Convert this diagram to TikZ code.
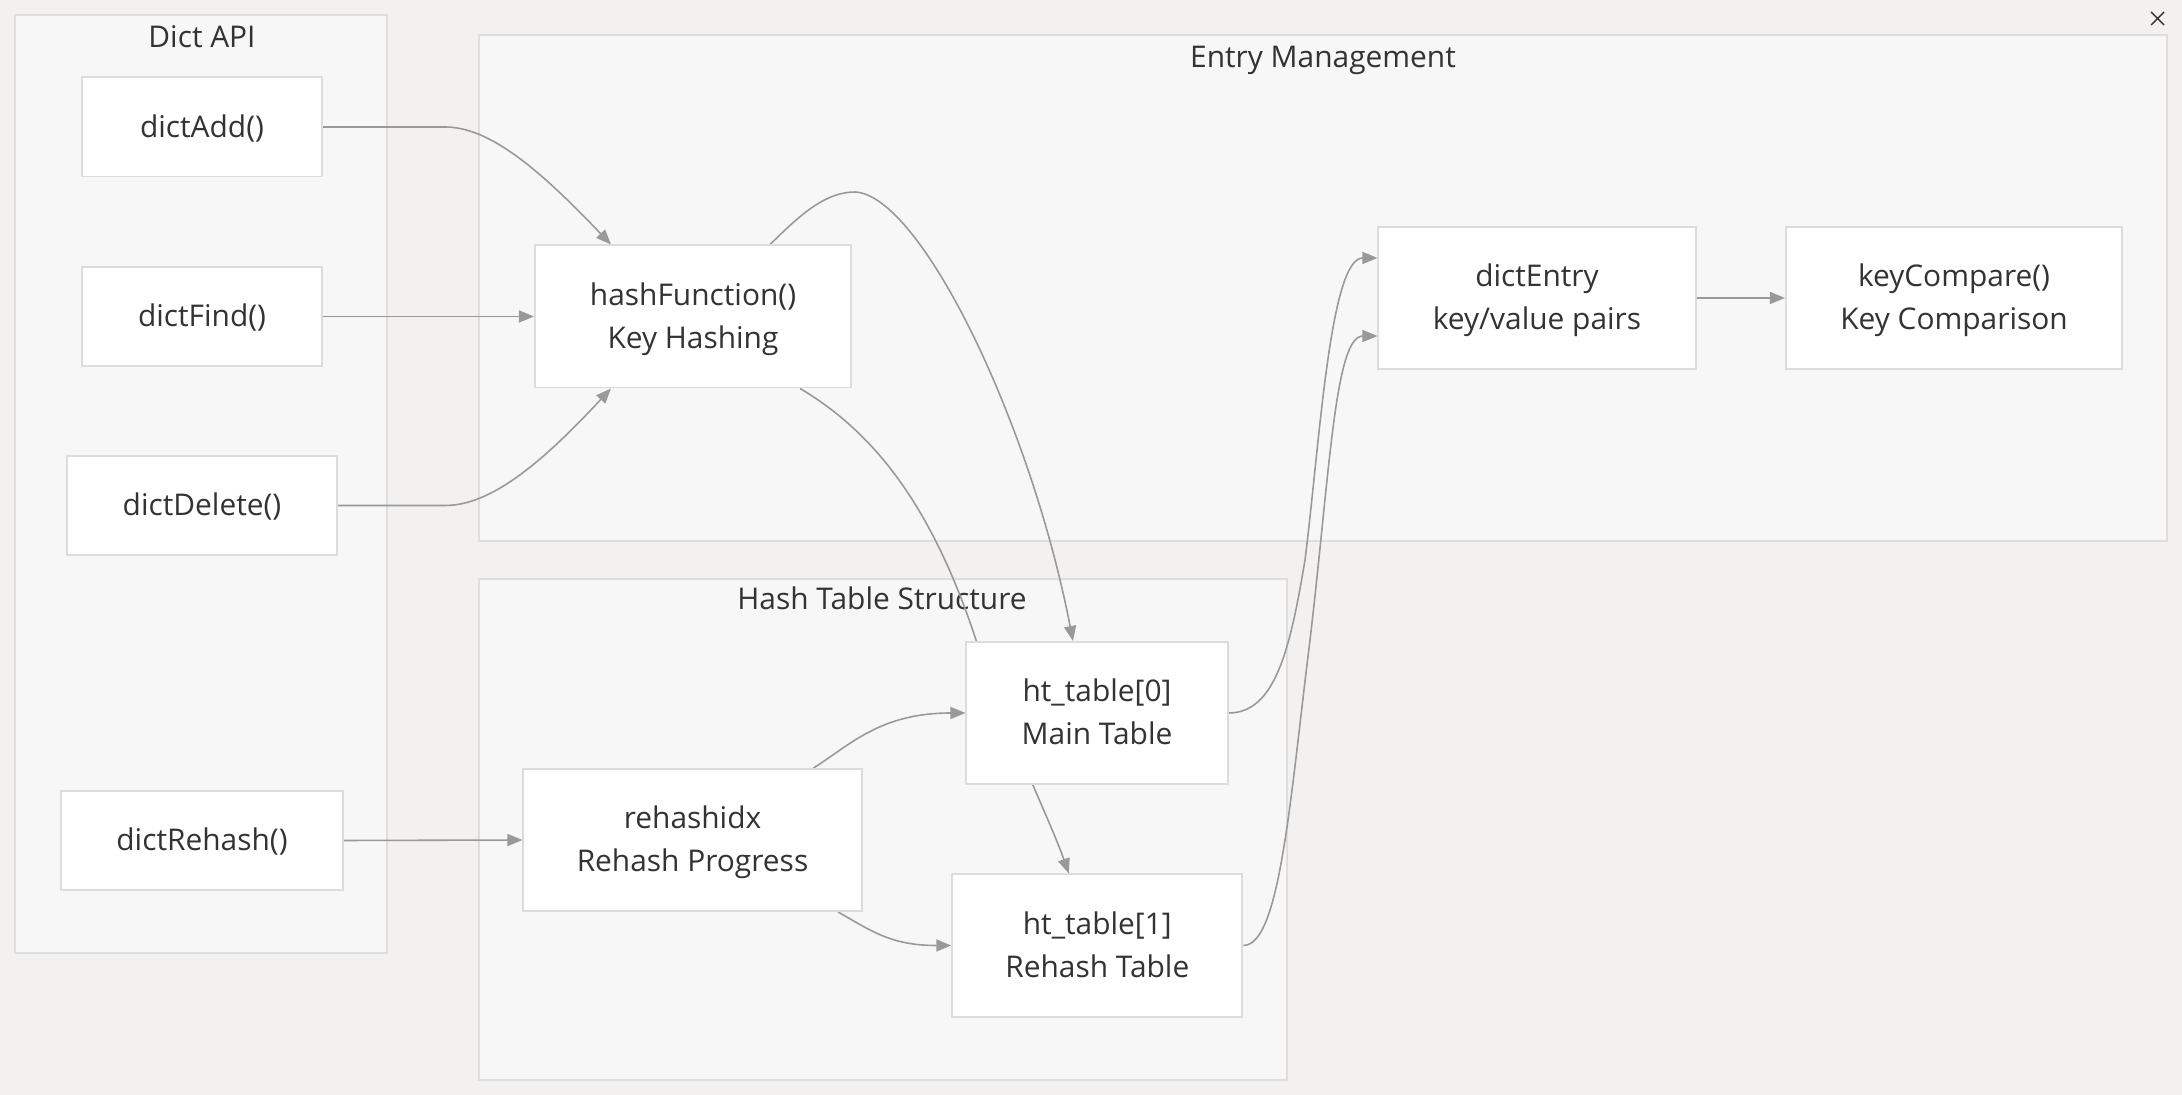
\documentclass[tikz,border=0pt]{standalone}
\usepackage{fontspec}
\setmainfont{Open Sans}
\usetikzlibrary{arrows.meta,calc}
\definecolor{htPage}{HTML}{F2F1F0}
\definecolor{htCluster}{HTML}{F7F7F7}
\definecolor{htClusterLine}{HTML}{DEDEDE}
\definecolor{htBoxLine}{HTML}{DCDCDC}
\definecolor{htEdge}{HTML}{999999}
\definecolor{htText}{HTML}{333333}
\newcommand\htfont{\fontsize{8.5}{12.2}\selectfont}
\newcommand\htstrut{\rule[-0.1cm]{0pt}{0.406cm}}
\newcommand\htpair[2]{\htstrut#1\\#2\htstrut}
\pgfdeclarelayer{background}
\pgfdeclarelayer{edges}
\pgfsetlayers{background,edges,main}
\tikzset{
  ht cluster/.style={draw=htClusterLine, fill=htCluster, line width=0.55pt},
  ht title/.style={font=\htfont, text=htText, anchor=base},
  ht box/.style={rectangle, draw=htBoxLine, fill=white, line width=0.55pt,
    inner sep=0pt, align=center, font=\htfont, text=htText},
}

\begin{document}
\begin{tikzpicture}[
  x=0.01cm, y=-0.01cm,
  small/.style={ht box, minimum height=0.99cm,
    execute at begin node=\htstrut, execute at end node=\htstrut},
  big/.style={ht box, minimum height=1.42cm},
  flow/.style={draw=htEdge, line width=0.45pt,
    -{Triangle[length=0.15cm, width=0.12cm, fill=htEdge]}}
]
  \useasboundingbox (0,0) rectangle (2182,1095);
  \begin{pgfonlayer}{background}
    \fill[htPage] (0,0) rectangle (2182,1095);
    \draw[ht cluster] (15,15) rectangle (387,953);
    \draw[ht cluster] (479,35) rectangle (2167,541);
    \draw[ht cluster] (479,579) rectangle (1287,1080);
    \node[ht title] (apiTitle) at (202,48) {Dict API};
    \node[ht title] (entryTitle) at (1323,68) {Entry Management};
    \node[ht title] (tableTitle) at (882,610) {Hash Table Structure};
  \end{pgfonlayer}

  \node[small, minimum width=2.39cm] (dictAdd) at (202,127) {dictAdd()};
  \node[small, minimum width=2.40cm] (dictFind) at (202,316.5) {dictFind()};
  \node[small, minimum width=2.70cm] (dictDelete) at (202,505.5) {dictDelete()};
  \node[small, minimum width=2.81cm] (dictRehash) at (202,840.5) {dictRehash()};

  \node[big, minimum width=3.16cm] (hashFn) at (693,316.5) {\htpair{hashFunction()}{Key Hashing}};
  \node[big, minimum width=3.38cm] (rehashIdx) at (692.5,840) {\htpair{rehashidx}{Rehash Progress}};
  \node[big, minimum width=2.61cm] (htZero) at (1097,713) {\htpair{ht\_table[0]}{Main Table}};
  \node[big, minimum width=2.90cm] (htOne) at (1097.3,945.5) {\htpair{ht\_table[1]}{Rehash Table}};
  \node[big, minimum width=3.17cm] (dictEntry) at (1537,298) {\htpair{dictEntry}{key/value pairs}};
  \node[big, minimum width=3.36cm] (keyCmp) at (1954,298) {\htpair{keyCompare()}{Key Comparison}};

  \draw[htText, line width=0.4pt] (2151,12) -- (2164,25) (2164,12) -- (2151,25);

  \begin{pgfonlayer}{edges}
    \draw[flow] (dictAdd.east) -- (445,127) .. controls (490,127) and (540,170) .. ([xshift=-0.82cm]hashFn.north);
    \draw[flow] (dictFind.east) -- (hashFn.west);
    \draw[flow] (dictDelete.east) -- (445,505.5) .. controls (490,505.5) and (540,465) .. ([xshift=-0.82cm]hashFn.south);
    \draw[flow] (dictRehash.east) -- (rehashIdx.west);
    \draw[flow] ([xshift=0.77cm]hashFn.north) .. controls (800,215) and (825,192) .. (855,192)
      .. controls (920,195) and (1030,420) .. ([xshift=-0.24cm]htZero.north);
    \draw[flow] ([xshift=1.07cm]hashFn.south) .. controls (870,430) and (930,500) .. (976,640)
      .. controls (1010,740) and (1050,820) .. ([xshift=-0.285cm]htOne.north);
    \draw[flow] ([xshift=1.21cm]rehashIdx.north) .. controls (850,745) and (880,713) .. (htZero.west);
    \draw[flow] ([xshift=1.455cm]rehashIdx.south) .. controls (870,930) and (890,945.5) .. (htOne.west);
    \draw[flow] (htZero.east) .. controls (1275,713) and (1290,650) .. (1305,560)
      .. controls (1320,440) and (1330,258) .. ([yshift=0.4cm]dictEntry.west);
    \draw[flow] (htOne.east) .. controls (1280,945.5) and (1290,800) .. (1310,640)
      .. controls (1330,470) and (1335,336) .. ([yshift=-0.38cm]dictEntry.west);
    \draw[flow] (dictEntry.east) -- (keyCmp.west);
  \end{pgfonlayer}
\end{tikzpicture}
\end{document}
